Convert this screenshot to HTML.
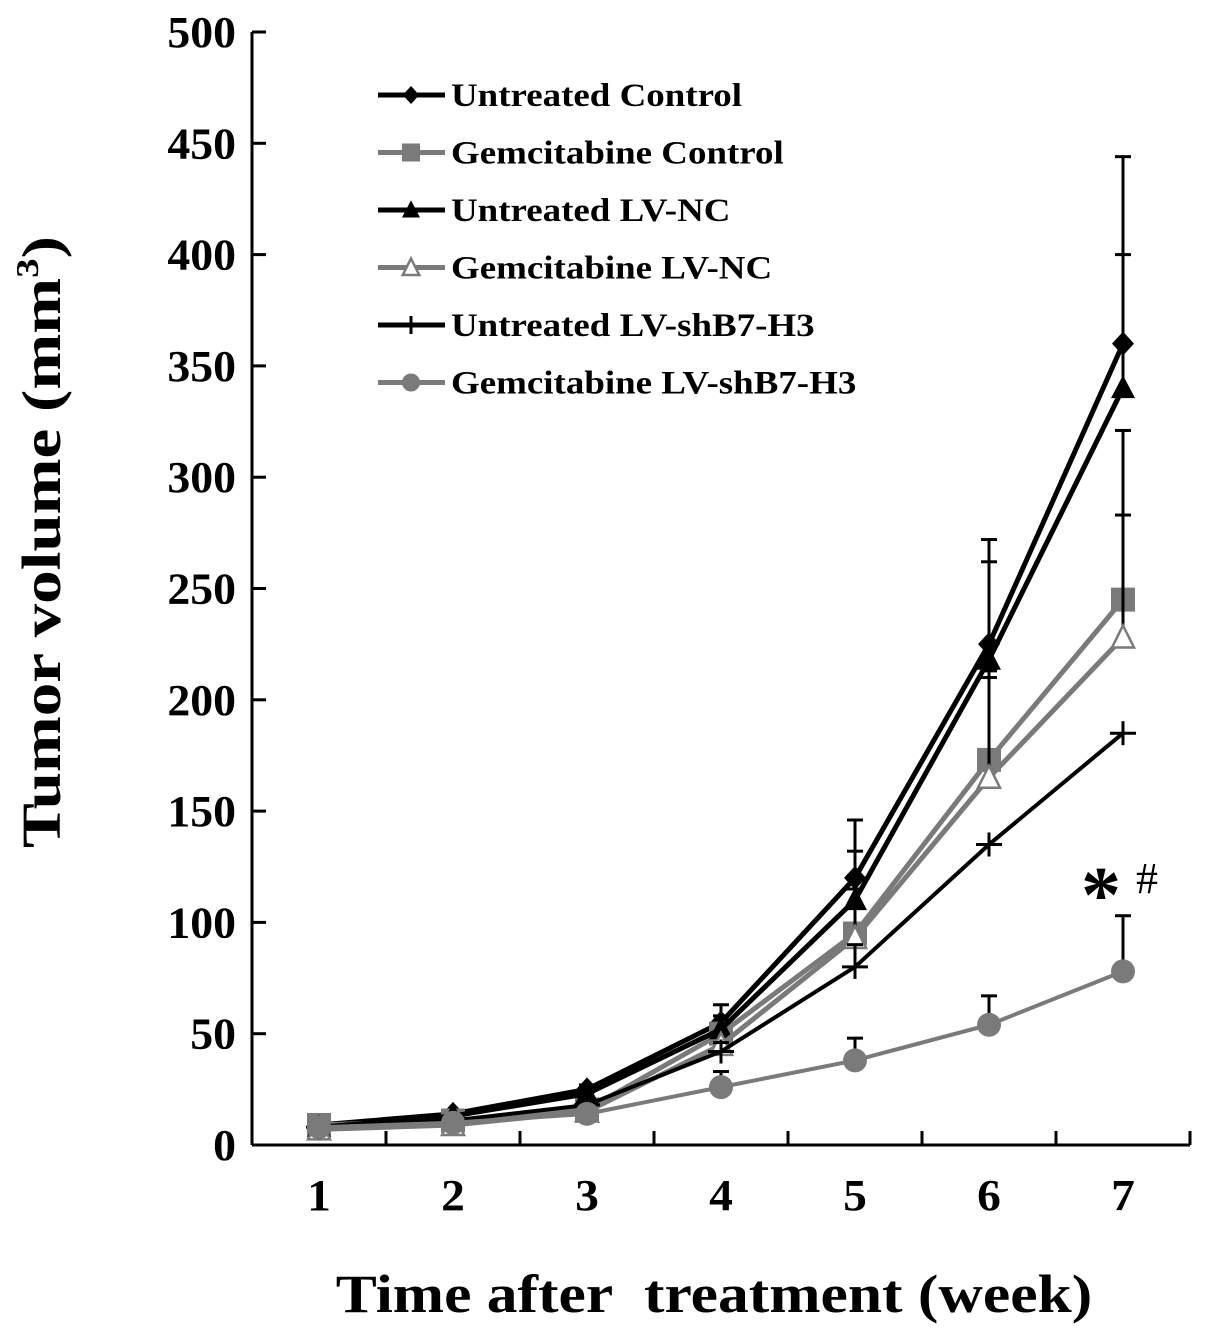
<!DOCTYPE html>
<html><head><meta charset="utf-8"><style>
body{margin:0;background:#fff;}
svg{display:block;font-family:"Liberation Serif",serif;font-weight:bold;}
</style></head><body>
<svg id="chart" width="1205" height="1337" viewBox="0 0 1205 1337" xmlns="http://www.w3.org/2000/svg">
<g id="axes"></g><g id="series"></g><g id="legend"></g>
<g transform="translate(60,542) rotate(-90) scale(1.22,1)"><text x="0" y="0" text-anchor="middle" font-size="55">Tumor volume (mm<tspan font-size="32" dy="-22">3</tspan><tspan dy="22">)</tspan></text></g>
<g transform="translate(714,1312) scale(1.14,1)"><text x="0" y="0" text-anchor="middle" font-size="54">Time after&#160; treatment (week)</text></g>
<text x="1101" y="922" text-anchor="middle" font-size="80">*</text>
<text x="1147" y="893" text-anchor="middle" font-size="44" font-weight="normal">#</text>
</svg>
<script>
const weeks=[1,2,3,4,5,6,7];
const yTicks=[0,50,100,150,200,250,300,350,400,450,500];
const names=["Untreated Control","Gemcitabine Control","Untreated LV-NC","Gemcitabine LV-NC","Untreated LV-shB7-H3","Gemcitabine LV-shB7-H3"];
const untreatedControl=[9,14,25,55,120,225,360];
const gemControl=[9,11,16,50,95,173,245];
const untreatedLVNC=[8,13,23,52,110,218,340];
const gemLVNC=[7,9,15,45,93,165,228];
const untreatedSh=[8,11,18,42,80,135,185];
const gemSh=[8,10,14,26,38,54,78];
const errUC=[0,0,2,8,26,47,84];
const errGC=[0,0,2,6,20,40,76];
const errUN=[0,0,2,6,22,44,60];
const errGN=[0,0,1,5,15,45,55];
const errUS=[0,0,1,4,10,0,0];
const errGS=[0,0,1,7,10,13,25];
const NS="http://www.w3.org/2000/svg";
const X=v=>252+(v-0.5)*134, Y=v=>1145-v*2.226;
function mk(t,a,p){const e=document.createElementNS(NS,t);for(const k in a)e.setAttribute(k,a[k]);p.appendChild(e);return e;}
const ax=document.getElementById('axes');
let e=mk('line',{x1:252,y1:Y(0),x2:1190,y2:Y(0),stroke:'#000','stroke-width':3},ax);


e=mk('line',{x1:252,y1:Y(0),x2:252,y2:Y(500),stroke:'#000','stroke-width':3},ax);


yTicks.forEach(t=>{mk('line',{x1:252,y1:Y(t),x2:266,y2:Y(t),stroke:'#000','stroke-width':3},ax);
 const g=mk('g',{transform:`translate(236,${Y(t)+15}) scale(1.04,1)`},ax);
 const tx=mk('text',{x:0,y:0,'text-anchor':'end','font-size':44},g);tx.textContent=t;
 
 });
for(let k=0;k<=7;k++){mk('line',{x1:X(k+0.5),y1:Y(0),x2:X(k+0.5),y2:Y(0)-14,stroke:'#000','stroke-width':3},ax);}
weeks.forEach(w=>{const g=mk('g',{transform:`translate(${X(w)},1210) scale(1.08,1)`},ax);
 const tx=mk('text',{x:0,y:0,'text-anchor':'middle','font-size':44},g);tx.textContent=w;
 
 });
const series=[
 {v:untreatedControl,e:errUC,c:'#000',w:5,m:'diamond'},
 {v:gemControl,e:errGC,c:'#7a7a7a',w:5,m:'square'},
 {v:untreatedLVNC,e:errUN,c:'#000',w:5,m:'tri'},
 {v:gemLVNC,e:errGN,c:'#7a7a7a',w:5,m:'otri'},
 {v:untreatedSh,e:errUS,c:'#000',w:4,m:'plus'},
 {v:gemSh,e:errGS,c:'#7a7a7a',w:4,m:'circle'}];
function marker(g,m,x,y,c,s){s=s||1;
 if(m==='diamond')mk('polygon',{points:`${x},${y-12*s} ${x+11*s},${y} ${x},${y+12*s} ${x-11*s},${y}`,fill:c},g);
 if(m==='square')mk('rect',{x:x-12*s,y:y-12*s,width:24*s,height:24*s,fill:c},g);
 if(m==='tri')mk('polygon',{points:`${x},${y-13*s} ${x+12*s},${y+10*s} ${x-12*s},${y+10*s}`,fill:c},g);
 if(m==='otri')mk('polygon',{points:`${x},${y-12*s} ${x+11*s},${y+10*s} ${x-11*s},${y+10*s}`,fill:'#fff',stroke:c,'stroke-width':2.5},g);
 if(m==='plus'){mk('line',{x1:x-13*s,y1:y,x2:x+13*s,y2:y,stroke:c,'stroke-width':3},g);mk('line',{x1:x,y1:y-12*s,x2:x,y2:y+12*s,stroke:c,'stroke-width':3},g);}
 if(m==='circle')mk('circle',{cx:x,cy:y,r:12*s,fill:c},g);}
const sg=document.getElementById('series');
series.forEach((s,i)=>{
 const g=mk('g',{},sg);
 
 
 s.v.forEach((v,j)=>{if(s.e[j]>0){mk('line',{x1:X(weeks[j]),y1:Y(v),x2:X(weeks[j]),y2:Y(v+s.e[j]),stroke:'#000','stroke-width':3},g);
  mk('line',{x1:X(weeks[j])-8,y1:Y(v+s.e[j]),x2:X(weeks[j])+8,y2:Y(v+s.e[j]),stroke:'#000','stroke-width':3},g);}});
 mk('polyline',{points:s.v.map((v,j)=>X(weeks[j])+','+Y(v)).join(' '),fill:'none',stroke:s.c,'stroke-width':s.w},g);
 s.v.forEach((v,j)=>marker(g,s.m,X(weeks[j]),Y(v),s.c));
});
const lg=document.getElementById('legend');
names.forEach((n,i)=>{const y=95+i*57.5;const g=mk('g',{},lg);
 
 
 mk('line',{x1:378,y1:y,x2:445,y2:y,stroke:series[i].c,'stroke-width':5},g);
 marker(g,series[i].m,411,y,series[i].c,0.75);
 const tg=mk('g',{transform:`translate(451,${y+11}) scale(1.12,1)`},g);
 const t=mk('text',{x:0,y:0,'font-size':33},tg);t.textContent=n;});
</script>
</body></html>
